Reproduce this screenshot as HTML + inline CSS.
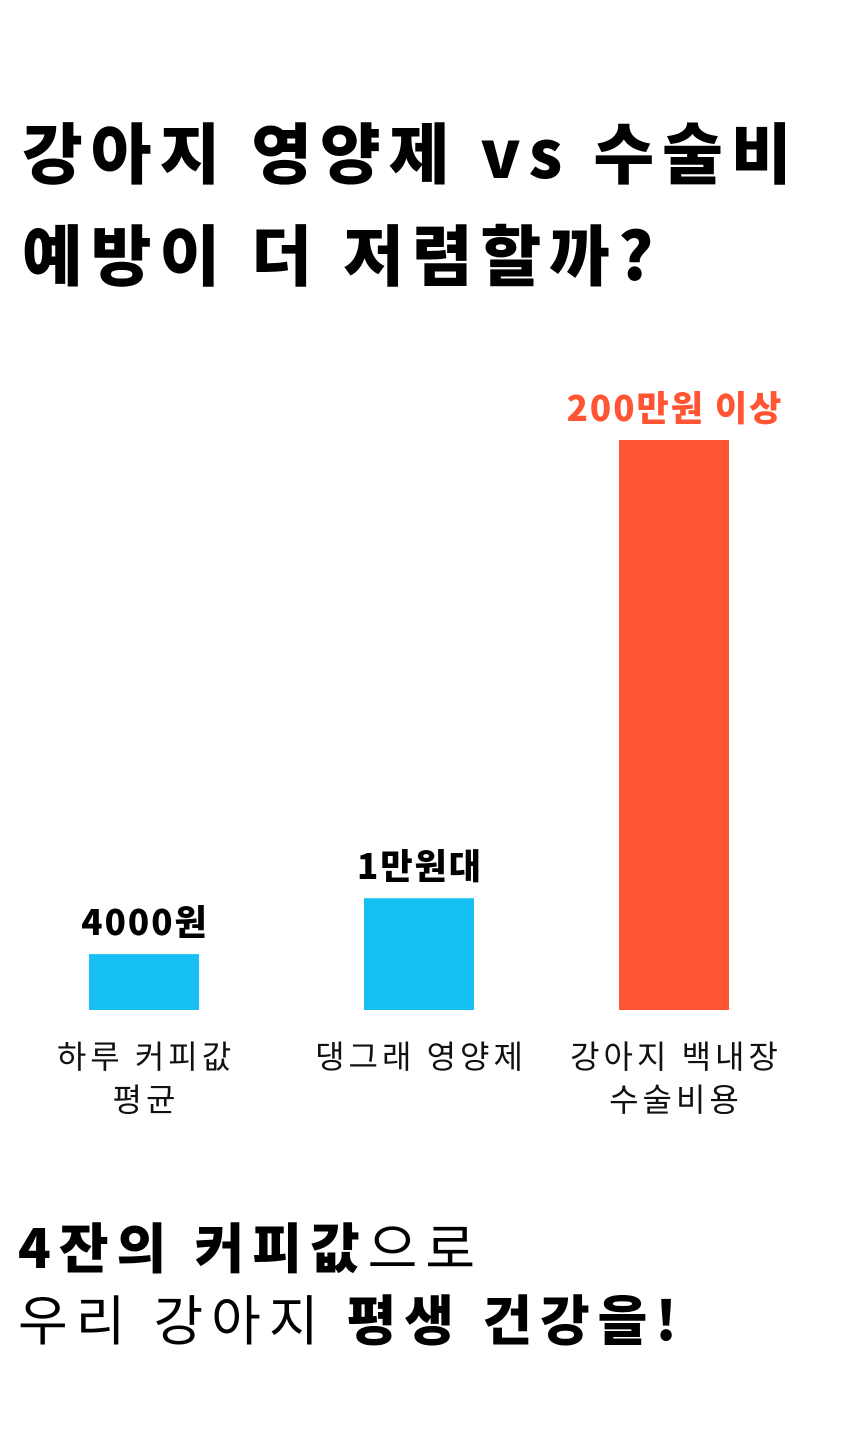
<!DOCTYPE html>
<html><head><meta charset="utf-8">
<style>
body{margin:0;background:#fff;width:860px;height:1430px;overflow:hidden}
svg{display:block}
text{font-family:"Noto Sans CJK KR","Liberation Sans",sans-serif}
</style></head>
<body>
<svg width="860" height="1430" viewBox="0 0 860 1430">
<text x="22" y="178" font-size="66" font-weight="900" letter-spacing="8" fill="#000">강아지 영양제 vs 수술비</text>
<text x="22" y="280" font-size="66" font-weight="900" letter-spacing="8" fill="#000">예방이 더 저렴할까?</text>
<g id="bars"></g>
<text x="18" y="1268" font-size="54" letter-spacing="8" fill="#000"><tspan font-weight="900">4잔의 커피값</tspan>으로</text>
<text x="18" y="1340" font-size="54" letter-spacing="8" fill="#000">우리 강아지 <tspan font-weight="900">평생 건강을!</tspan></text>
</svg>
<script>
const categories=[["하루 커피값","평균"],["댕그래 영양제"],["강아지 백내장","수술비용"]];
const values=[1,2,10.2];
const valueLabels=["4000원","1만원대","200만원 이상"];
const colors=["#17C0F2","#17C0F2","#FF5533"];
const labelColors=["#000","#000","#FF5533"];
const baseY=1010, plotTop=440, maxV=10.2;
const y=v=>baseY-(v/maxV)*(baseY-plotTop);
const centers=[144,419,674];
const barW=110;
const g=document.getElementById('bars');
const ns="http://www.w3.org/2000/svg";
values.forEach((v,i)=>{
  const cx=centers[i];
  const r=document.createElementNS(ns,'rect');
  r.setAttribute('x',cx-barW/2);r.setAttribute('y',y(v));
  r.setAttribute('width',barW);r.setAttribute('height',baseY-y(v));
  r.setAttribute('fill',colors[i]);
  
  
  g.appendChild(r);
  const t=document.createElementNS(ns,'text');
  t.setAttribute('x',cx+1);t.setAttribute('y',y(v)-19);
  t.setAttribute('text-anchor','middle');t.setAttribute('font-size','35');
  t.setAttribute('font-weight','900');t.setAttribute('fill',labelColors[i]);
  t.setAttribute('letter-spacing','2');
  t.textContent=valueLabels[i];
  
  
  g.appendChild(t);
  categories[i].forEach((line,j)=>{
    const c=document.createElementNS(ns,'text');
    c.setAttribute('x',cx+2);c.setAttribute('y',1068+j*43);
    c.setAttribute('text-anchor','middle');c.setAttribute('font-size','32');
    c.setAttribute('letter-spacing','4');
    c.setAttribute('fill','#111');
    c.textContent=line;
    
    
    g.appendChild(c);
  });
});
</script>
</body></html>
